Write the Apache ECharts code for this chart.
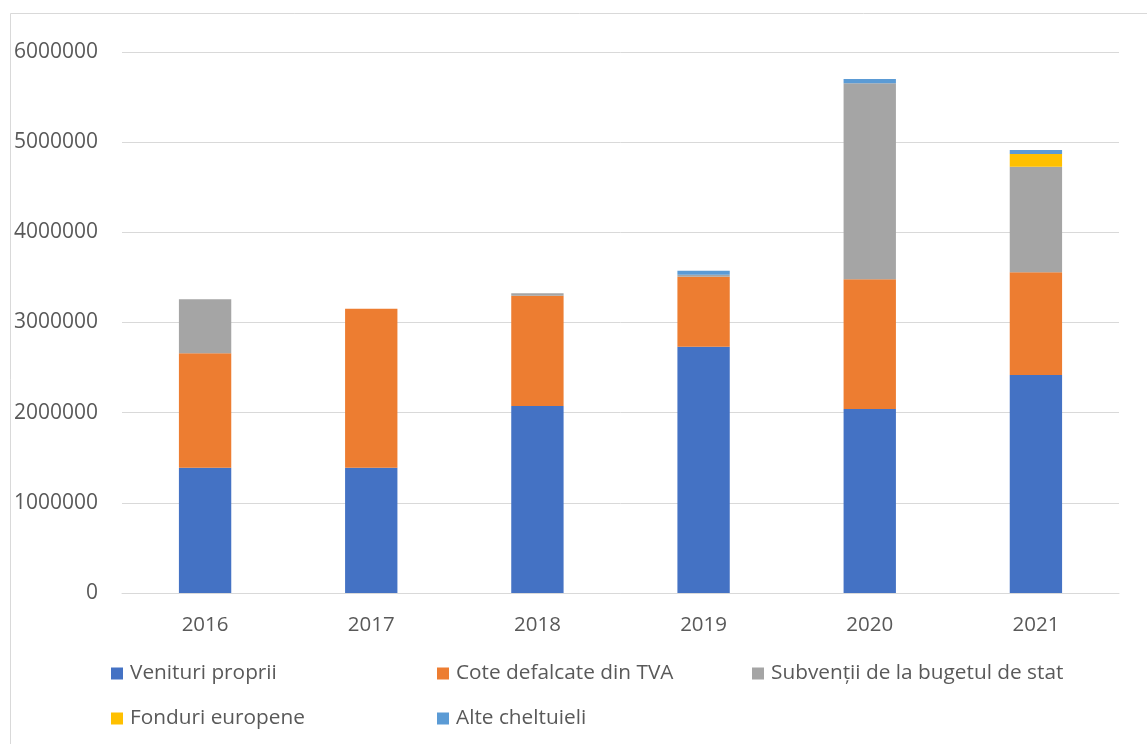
<!DOCTYPE html>
<html>
<head>
<meta charset="utf-8">
<script src="https://cdn.jsdelivr.net/npm/echarts@6/dist/echarts.min.js"></script>
<style>
  html, body { margin: 0; padding: 0; background: #fff; }
  #chart { width: 1147px; height: 744px; }
</style>
</head>
<body>
<div id="chart"></div>
<script>
// Budget revenue structure by year
const years = ['2016', '2017', '2018', '2019', '2020', '2021'];
const venituriProprii = [1390000, 1390000, 2074000, 2732000, 2041000, 2418000];
const coteTVA = [1268000, 1763000, 1223000, 776000, 1438000, 1139000];
const subventii = [599000, 0, 27000, 22000, 2174000, 1171000];
const fonduriEuropene = [0, 0, 0, 0, 0, 141000];
const alteCheltuieli = [0, 0, 0, 44000, 47000, 44000];
const yTicks = [0, 1000000, 2000000, 3000000, 4000000, 5000000, 6000000];

const seriesDefs = [
  { name: 'Venituri proprii', data: venituriProprii, color: '#4472C4' },
  { name: 'Cote defalcate din TVA', data: coteTVA, color: '#ED7D31' },
  { name: 'Subvenții de la bugetul de stat', data: subventii, color: '#A5A5A5' },
  { name: 'Fonduri europene', data: fonduriEuropene, color: '#FFC000' },
  { name: 'Alte cheltuieli', data: alteCheltuieli, color: '#5B9BD5' }
];

const FONT = '"Open Sans", "Liberation Sans", sans-serif';
const TEXT = '#595959';

// one legend block per entry so the entries sit in fixed columns
const legendPos = [
  { left: 111, top: 663 },
  { left: 437, top: 663 },
  { left: 752, top: 663 },
  { left: 111, top: 708 },
  { left: 437, top: 708 }
];

const chart = echarts.init(document.getElementById('chart'), null, { renderer: 'canvas' });
chart.setOption({
  animation: false,
  backgroundColor: '#fff',
  graphic: [{
    type: 'rect',
    shape: { x: 10.5, y: 13.5, width: 1160, height: 760 },
    style: { fill: 'none', stroke: '#D9D9D9', lineWidth: 1 },
    silent: true
  }],
  grid: { left: 122, right: 28, top: 52, bottom: 151 },
  legend: seriesDefs.map((s, i) => ({
    data: [s.name],
    left: legendPos[i].left,
    top: legendPos[i].top,
    icon: 'rect',
    itemWidth: 12,
    itemHeight: 12,
    padding: 0,
    selectedMode: false,
    textStyle: { color: TEXT, fontSize: 20.8, fontFamily: FONT, padding: [0, 0, 0, 2] }
  })),
  xAxis: {
    type: 'category',
    data: years,
    axisLine: { show: true, lineStyle: { color: '#D9D9D9', width: 1 } },
    axisTick: { show: false },
    axisLabel: { color: TEXT, fontSize: 20.5, fontFamily: FONT, margin: 22 }
  },
  yAxis: {
    type: 'value',
    min: yTicks[0],
    max: yTicks[yTicks.length - 1],
    interval: yTicks[1] - yTicks[0],
    axisLine: { show: false },
    axisTick: { show: false },
    splitLine: { lineStyle: { color: '#D9D9D9', width: 1 } },
    axisLabel: {
      color: TEXT, fontSize: 21, fontFamily: FONT, margin: 24,
      formatter: v => String(v)
    }
  },
  series: seriesDefs.map(s => ({
    name: s.name,
    type: 'bar',
    stack: 'total',
    barWidth: '31.5%',
    data: s.data,
    itemStyle: { color: s.color }
  }))
});
</script>
</body>
</html>
